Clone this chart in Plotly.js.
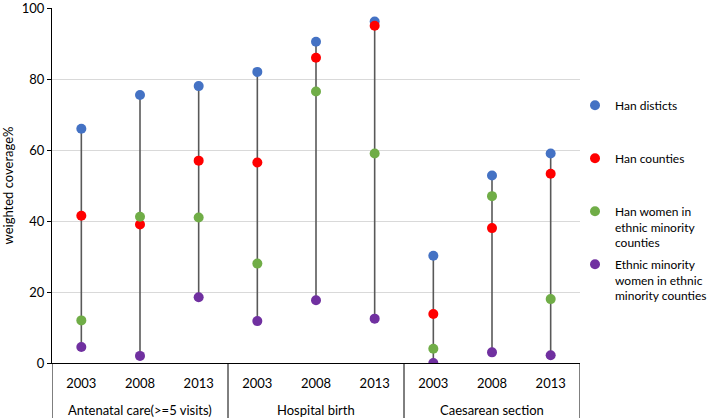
<!DOCTYPE html>
<html><head><meta charset="utf-8">
<script src="https://cdn.plot.ly/plotly-3.0.1.min.js"></script>
<style>html,body{margin:0;padding:0;background:#fff}#chart{width:709px;height:418px}</style>
</head><body><div id="chart"></div>
<script>
const groupLabels = ["Antenatal care(>=5 visits)", "Hospital birth", "Caesarean section"];
const years = ["2003","2008","2013","2003","2008","2013","2003","2008","2013"];
const yTicks = [0, 20, 40, 60, 80, 100];
const hanDistricts = [66, 75.5, 78, 82, 90.5, 96.2, 30.2, 52.8, 59];
const hanCounties = [41.5, 39, 57, 56.5, 86, 95, 13.8, 38, 53.3];
const hanWomenMinority = [12, 41.2, 41, 28, 76.5, 59, 4, 47, 18];
const minorityWomen = [4.5, 2, 18.5, 11.8, 17.7, 12.5, 0, 3, 2.2];
const seriesNames = ["Han disticts","Han counties","Han women in<br>ethnic minority<br>counties","Ethnic minority<br>women in ethnic<br>minority counties"];
const seriesColors = ["#4472C4","#FF0000","#70AD47","#7030A0"];

const W = 709, H = 418, M = {l: 52, r: 129, t: 8, b: 55};
const plotH = H - M.t - M.b, plotW = W - M.l - M.r;
const pxToPaperY = py => (H - M.b - py) / plotH;
const pxToPaperX = px => (px - M.l) / plotW;

const all = [hanDistricts, hanCounties, hanWomenMinority, minorityWomen];
const xs = years.map((_, i) => i);
const perGroup = years.length / groupLabels.length;
const mins = xs.map(i => Math.min(...all.map(s => s[i])));
const maxs = xs.map(i => Math.max(...all.map(s => s[i])));

const traces = [{
  type: 'scatter', mode: 'markers', x: xs, y: mins,
  marker: {size: 1, opacity: 0}, showlegend: false, hoverinfo: 'skip',
  error_y: {type: 'data', symmetric: false, array: maxs.map((m, i) => m - mins[i]),
    arrayminus: mins.map(() => 0), color: '#595959', thickness: 1.6, width: 0}
}];
const legendIds = ['legend', 'legend2', 'legend3', 'legend4'];
all.forEach((s, k) => traces.push({
  type: 'scatter', mode: 'markers', x: xs, y: s, name: seriesNames[k],
  legend: legendIds[k],
  marker: {size: 10, color: seriesColors[k]}
}));

const ff = 'Lato, "Liberation Sans", sans-serif';
const legendTops = [91, 144, 197, 250];
const layout = {
  width: W, height: H,
  margin: Object.assign({autoexpand: false}, M),
  paper_bgcolor: '#fff', plot_bgcolor: '#fff',
  font: {family: ff, size: 13, color: '#000'},
  showlegend: true,
  xaxis: {range: [-0.5, years.length - 0.5], tickvals: xs, ticktext: years,
    showgrid: false, zeroline: false, showline: true, linecolor: '#000', linewidth: 1,
    ticks: 'outside', ticklen: 8, tickcolor: 'rgba(0,0,0,0)',
    tickfont: {family: ff, size: 13, color: '#000'}},
  yaxis: {range: [0, 100], tickmode: 'array', tickvals: yTicks, ticktext: yTicks.map(String),
    showgrid: true, gridcolor: '#d9d9d9', gridwidth: 1,
    zeroline: false, showline: true, linecolor: '#000', linewidth: 1,
    ticks: 'outside', ticklen: 4, tickcolor: '#000', ticklabeloverflow: 'allow',
    tickfont: {family: ff, size: 13, color: '#000'},
    title: {text: 'weighted coverage%', font: {family: ff, size: 13, color: '#000'}, standoff: 10}},
  shapes: [],
  annotations: []
};
legendIds.forEach((id, k) => {
  layout[id] = {x: pxToPaperX(575), y: pxToPaperY(legendTops[k]), xanchor: 'left', yanchor: 'top',
    valign: 'top', itemwidth: 30, bgcolor: 'rgba(0,0,0,0)',
    font: {family: ff, size: 12, color: '#000'}};
});
for (let g = 0; g <= groupLabels.length; g++) {
  layout.shapes.push({type: 'line', xref: 'x', yref: 'paper',
    x0: g * perGroup - 0.5, x1: g * perGroup - 0.5, y0: 0, y1: -M.b / plotH,
    line: {color: '#000', width: 1}});
}
groupLabels.forEach((lab, g) => {
  layout.annotations.push({xref: 'x', yref: 'paper', x: g * perGroup + (perGroup - 1) / 2,
    y: pxToPaperY(410), yanchor: 'middle', showarrow: false, text: lab,
    font: {family: ff, size: 13, color: '#000'}});
});
Plotly.newPlot('chart', traces, layout, {displayModeBar: false, staticPlot: true});
</script></body></html>
